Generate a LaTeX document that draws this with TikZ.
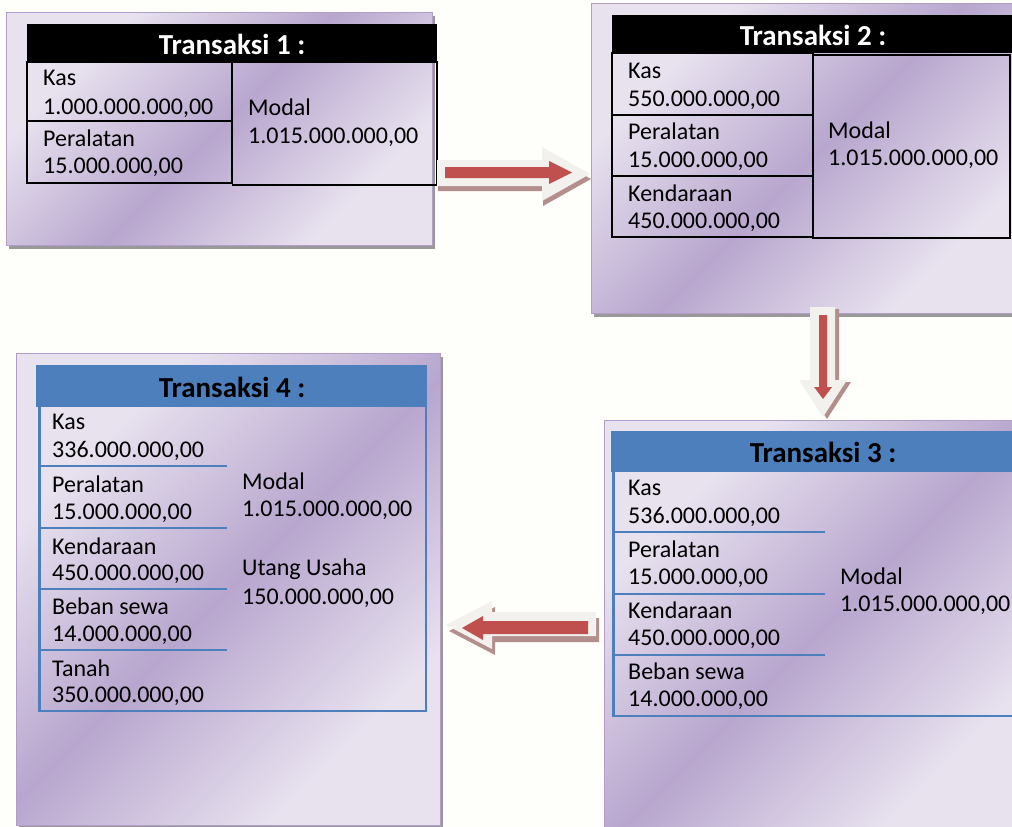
\documentclass[tikz,border=0pt]{standalone}
\usepackage{fontspec}
\setmainfont{Carlito}
\usetikzlibrary{shadows}
\definecolor{bgc}{RGB}{254,254,250}
\definecolor{pl}{RGB}{232,226,239}
\definecolor{pd}{RGB}{184,166,206}
\definecolor{pborder}{RGB}{176,158,200}
\definecolor{hblue}{RGB}{76,127,188}
\definecolor{ared}{RGB}{192,80,77}
\definecolor{awhite}{RGB}{243,241,237}
\definecolor{ashadow}{RGB}{178,142,140}
\pgfdeclareverticalshading{panelshade}{100bp}{color(0bp)=(pl); color(28bp)=(pl); color(50bp)=(pd); color(72bp)=(pl); color(100bp)=(pl)}
\tikzset{
  panelbox/.style={draw=pborder, line width=1.2pt, shading=panelshade, shading angle=45,
    anchor=north west, inner sep=0pt,
    drop shadow={shadow xshift=2.5pt, shadow yshift=-3pt, fill=black!40, opacity=1}},
  hdrblack/.style={fill=black, draw=none, anchor=north west, inner sep=0pt},
  hdrblue/.style={fill=hblue, draw=none, anchor=north west, inner sep=0pt},
  ttlw/.style={text=white, font=\bfseries\fontsize{29}{34}\selectfont, inner sep=0pt},
  ttlb/.style={text=black, font=\bfseries\fontsize{29}{34}\selectfont, inner sep=0pt},
  txt/.style={anchor=west, inner sep=0pt, font=\fontsize{24}{28}\selectfont},
  bline/.style={draw=black, line width=2pt},
  uline/.style={draw=hblue, line width=2.6pt},
  ashad/.style={fill=ashadow, draw=none},
  awh/.style={fill=awhite, draw=none},
  ard/.style={fill=ared, draw=none}
}
\begin{document}
\begin{tikzpicture}[x=1pt,y=-1pt]
\fill[bgc] (0,0) rectangle (1012,827);
\useasboundingbox (0,0) rectangle (1012,827);

% ---------- Panel 1 ----------
\node[panelbox, minimum width=426pt, minimum height=233pt] (p1) at (6,12) {};
\node[hdrblack, minimum width=410pt, minimum height=38pt] (h1) at (27,24) {};
\node[ttlw] (t1) at (232,44) {Transaksi 1 :};
\draw[bline] (27,62) rectangle (232,183);
\draw[bline] (27,121) -- (232,121);
\draw[bline] (232,62) -- (437,62) -- (437,185) -- (232,185);
\node[txt] (p1a) at (43,78) {Kas};
\node[txt] (p1b) at (43,108) {1.000.000.000,00};
\node[txt] (p1c) at (43,138) {Peralatan};
\node[txt] (p1d) at (43,167) {15.000.000,00};
\node[txt] (p1e) at (248,107) {Modal};
\node[txt] (p1f) at (248,137) {1.015.000.000,00};

% ---------- Panel 2 ----------
\node[panelbox, minimum width=440pt, minimum height=310pt] (p2) at (591,3) {};
\node[hdrblack, minimum width=410pt, minimum height=38pt] (h2) at (612,15) {};
\node[ttlw] (t2) at (813,35) {Transaksi 2 :};
\draw[bline] (612,53) rectangle (813,237);
\draw[bline] (612,115) -- (813,115);
\draw[bline] (612,176) -- (813,176);
\draw[bline] (813,55) rectangle (1010,238);
\node[txt] (p2a) at (628,71) {Kas};
\node[txt] (p2b) at (628,100) {550.000.000,00};
\node[txt] (p2c) at (628,131) {Peralatan};
\node[txt] (p2d) at (628,161) {15.000.000,00};
\node[txt] (p2e) at (628,193) {Kendaraan};
\node[txt] (p2f) at (628,222) {450.000.000,00};
\node[txt] (p2g) at (828,130) {Modal};
\node[txt] (p2h) at (828,159) {1.015.000.000,00};

% ---------- Panel 3 ----------
\node[panelbox, minimum width=430pt, minimum height=420pt] (p3) at (604,420) {};
\node[hdrblue, minimum width=430pt, minimum height=41pt] (h3) at (611,431) {};
\node[ttlb] (t3) at (823,452) {Transaksi 3 :};
\draw[uline] (613.5,472) -- (613.5,716) -- (1020,716);
\draw[uline] (612,532) -- (825,532);
\draw[uline] (612,594) -- (825,594);
\draw[uline] (612,655) -- (825,655);
\node[txt] (p3a) at (628,488) {Kas};
\node[txt] (p3b) at (628,517) {536.000.000,00};
\node[txt] (p3c) at (628,549) {Peralatan};
\node[txt] (p3d) at (628,578) {15.000.000,00};
\node[txt] (p3e) at (628,610) {Kendaraan};
\node[txt] (p3f) at (628,639) {450.000.000,00};
\node[txt] (p3g) at (628,671) {Beban sewa};
\node[txt] (p3h) at (628,700) {14.000.000,00};
\node[txt] (p3i) at (840,576) {Modal};
\node[txt] (p3j) at (840,605) {1.015.000.000,00};

% ---------- Panel 4 ----------
\node[panelbox, minimum width=424pt, minimum height=472pt] (p4) at (16,353) {};
\node[hdrblue, minimum width=391pt, minimum height=42pt] (h4) at (36,365) {};
\node[ttlb] (t4) at (232,387) {Transaksi 4 :};
\draw[uline] (39.5,407) -- (39.5,711) -- (426,711) -- (426,407);
\draw[uline] (38,466) -- (227,466);
\draw[uline] (38,528) -- (227,528);
\draw[uline] (38,589) -- (227,589);
\draw[uline] (38,650) -- (227,650);
\node[txt] (p4a) at (52,422) {Kas};
\node[txt] (p4b) at (52,451) {336.000.000,00};
\node[txt] (p4c) at (52,484) {Peralatan};
\node[txt] (p4d) at (52,513) {15.000.000,00};
\node[txt] (p4e) at (52,546) {Kendaraan};
\node[txt] (p4f) at (52,574) {450.000.000,00};
\node[txt] (p4g) at (52,606) {Beban sewa};
\node[txt] (p4h) at (52,635) {14.000.000,00};
\node[txt] (p4i) at (52,668) {Tanah};
\node[txt] (p4j) at (52,696) {350.000.000,00};
\node[txt] (p4k) at (242,481) {Modal};
\node[txt] (p4l) at (242,510) {1.015.000.000,00};
\node[txt] (p4m) at (242,569) {Utang Usaha};
\node[txt] (p4n) at (242,598) {150.000.000,00};

% ---------- Arrow 1 (right) ----------
\begin{scope}[shift={(1,5)}]
\fill[ashad] (437,160) -- (542,160) -- (542,147) -- (590,174) -- (542,201) -- (542,186) -- (437,186) -- cycle;
\end{scope}
\fill[awh] (437,160) -- (542,160) -- (542,147) -- (590,174) -- (542,201) -- (542,186) -- (437,186) -- cycle;
\fill[ard] (445,167) -- (549,167) -- (549,161) -- (572,172.5) -- (549,184) -- (549,178) -- (445,178) -- cycle;

% ---------- Arrow 2 (down) ----------
\begin{scope}[shift={(4,2)}]
\fill[ashad] (810,307) -- (835,307) -- (835,380) -- (847,380) -- (823,417) -- (799,380) -- (810,380) -- cycle;
\end{scope}
\fill[awh] (810,307) -- (835,307) -- (835,380) -- (847,380) -- (823,417) -- (799,380) -- (810,380) -- cycle;
\fill[ard] (819,315) -- (827,315) -- (827,387) -- (832,387) -- (823,399) -- (814,387) -- (819,387) -- cycle;

% ---------- Arrow 3 (left) ----------
\begin{scope}[shift={(3,6)}]
\fill[ashad] (596,612) -- (492,612) -- (492,601) -- (446,625) -- (492,649) -- (492,636) -- (596,636) -- cycle;
\end{scope}
\fill[awh] (596,612) -- (492,612) -- (492,601) -- (446,625) -- (492,649) -- (492,636) -- (596,636) -- cycle;
\fill[ard] (588,621) -- (483,621) -- (483,616) -- (462,628) -- (483,640) -- (483,634) -- (588,634) -- cycle;
\end{tikzpicture}
\end{document}
